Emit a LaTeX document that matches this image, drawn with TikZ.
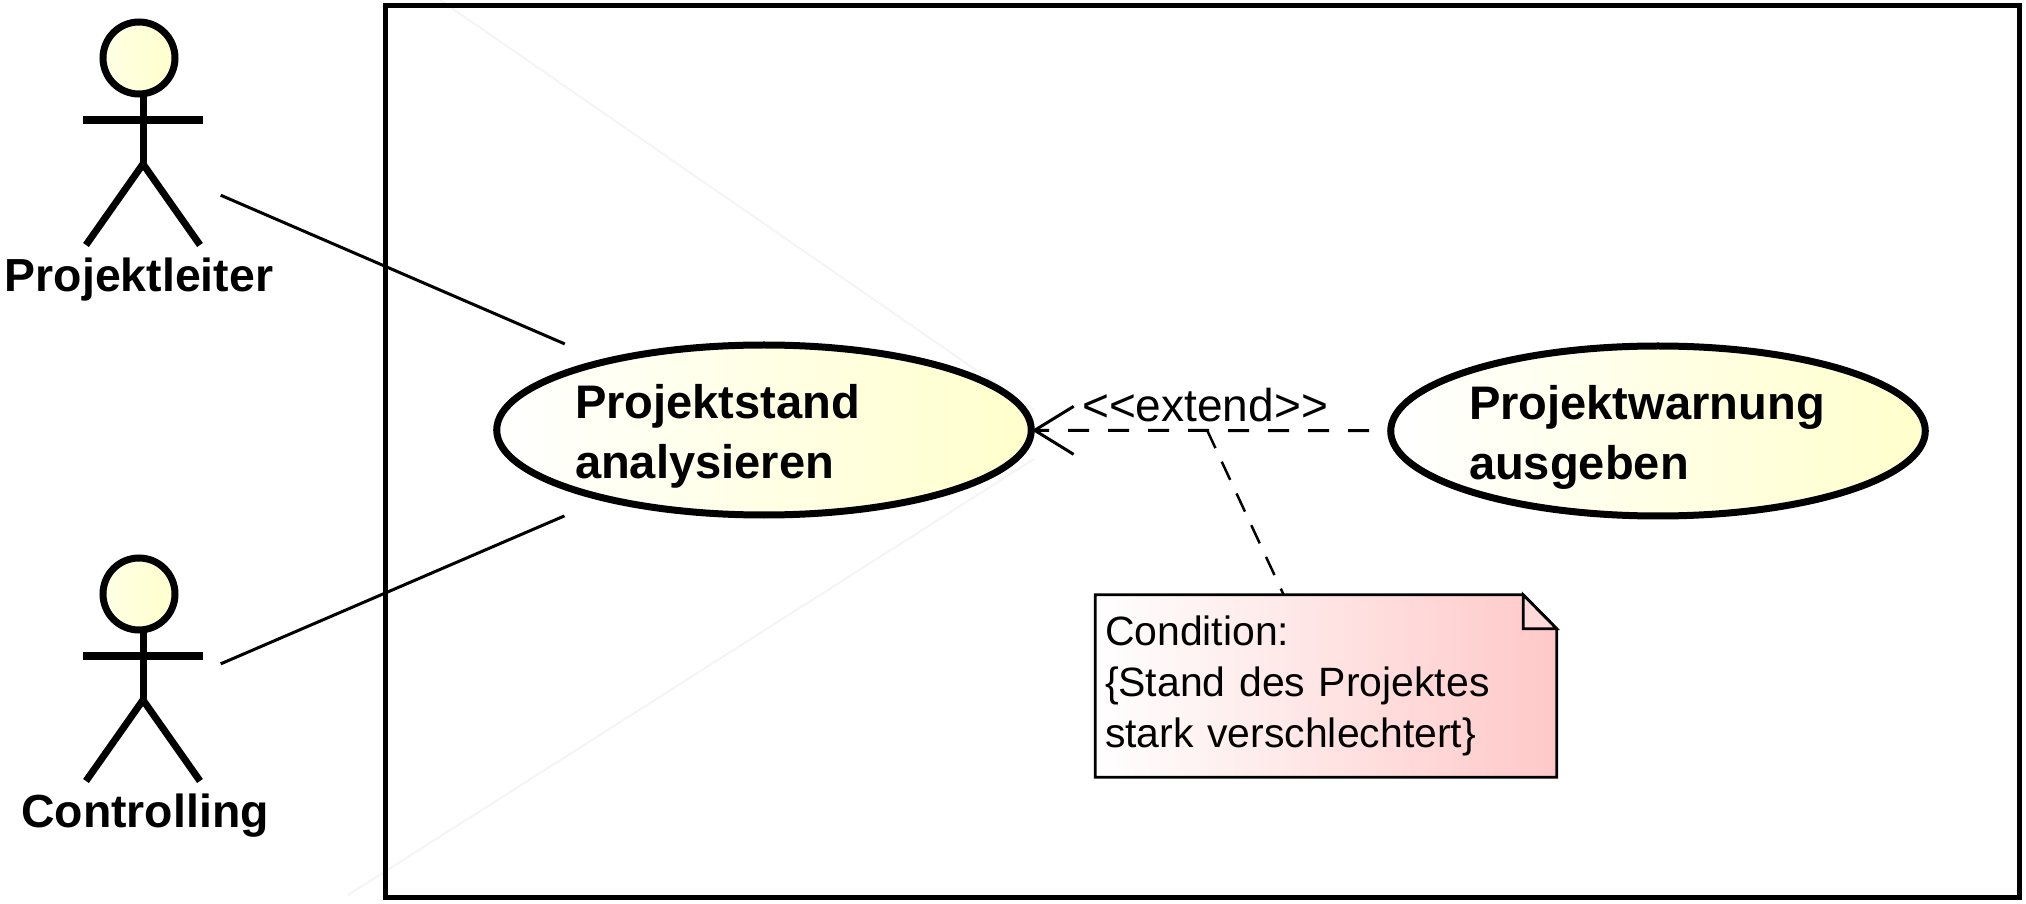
\documentclass[tikz,border=0pt]{standalone}
\usepackage{fontspec}
\setmainfont{Liberation Sans}
\usetikzlibrary{arrows.meta,backgrounds,shapes.geometric}
\definecolor{ucyellow}{HTML}{FFFFCC}
\definecolor{notered}{HTML}{FFC8C8}
\definecolor{faintline}{HTML}{F4F4F4}
\tikzset{
  usecase/.style={draw, ellipse, line width=0.07cm, inner sep=0pt, minimum width=5.33cm, minimum height=1.70cm,
    left color=white, right color=ucyellow, text width=3.78cm, text height=13.4pt, align=left, font=\fontsize{13.4}{17}\selectfont\bfseries},
  actorbox/.style={rectangle, inner sep=0pt, minimum width=1.62cm, minimum height=2.4cm},
  actorlabel/.style={anchor=base, inner sep=0pt, font=\fontsize{13.2}{16}\selectfont\bfseries},
  notebox/.style={rectangle, inner sep=0pt, minimum width=4.60cm, minimum height=1.81cm, text width=4.42cm, align=left,
    font=\fontsize{11.65}{14.5}\selectfont},
  assoc/.style={line width=0.03cm, shorten >=0.39cm},
  extendline/.style={line width=0.03cm, dash pattern=on 0.21cm off 0.19cm},
  noteline/.style={line width=0.025cm, dash pattern=on 0.2cm off 0.15cm},
  actor/.pic={
    \draw[line width=0.07cm, left color=ucyellow!50, right color=ucyellow] (0,1.02) circle (0.36);
    \draw[line width=0.07cm] (0.04,0.66) -- (0.04,-0.04);
    \draw[line width=0.08cm] (-0.56,0.40) -- (0.64,0.40);
    \draw[line width=0.07cm] (-0.53,-0.85) -- (0.04,-0.04) -- (0.61,-0.85);
  }
}
\begin{document}
\begin{tikzpicture}[>={Straight Barb[length=0.39cm,width=0.48cm]}]
\useasboundingbox (0,0) rectangle (20.26,9.03);
% frame and the two faint traces
\draw[faintline, line width=0.02cm] (4.40,9.03) -- (10.34,4.93);
\draw[faintline, line width=0.02cm] (3.48,0.08) -- (10.34,4.44);
\node[draw, rectangle, line width=0.05cm, inner sep=0pt, minimum width=16.34cm, minimum height=8.91cm] (frame) at (12.02,4.515) {};
% actors
\node[actorbox] (pl) at (1.39,7.43) {};
\pic at (pl) {actor};
\node[actorlabel] (pllabel) at (1.39,6.11) {Projektleiter};
\node[actorbox] (ctrl) at (1.39,2.04) {};
\pic at ([yshift=0.03cm]ctrl) {actor};
\node[actorlabel] (ctrllabel) at (1.45,0.76) {Controlling};
% use cases
\node[usecase] (ana) at (7.64,4.73) {Projektstand\\analysieren};
\node[usecase] (warn) at (16.58,4.72) {Projektwarnung\\ausgeben};
% note
\node[notebox] (note) at (13.26,2.17) {Condition:\\\{Stand des Projektes\\stark verschlechtert\}};
\begin{scope}[on background layer]
\shade[draw, line width=0.028cm, left color=white, right color=notered] (note.south west) -- (note.north west) -- ([xshift=-0.335cm]note.north east) -- ([yshift=-0.34cm]note.north east) -- (note.south east) -- cycle;
\draw[line width=0.028cm, fill=notered!70] ([xshift=-0.335cm]note.north east) -- ([xshift=-0.335cm,yshift=-0.34cm]note.north east) -- ([yshift=-0.34cm]note.north east) -- cycle;
\end{scope}
% connectors
\draw[assoc] (pl) -- (ana);
\draw[assoc] (ctrl) -- (ana);
\draw[->, extendline, shorten <=0.18cm, shorten >=-0.03cm] (warn) -- (ana);
\node[inner sep=0pt, anchor=base, font=\fontsize{13.1}{16}\selectfont] (extlabel) at (12.05,4.81) {<{}<extend>{}>};
\coordinate (lnk) at (12.07,4.73);
\draw[noteline] (lnk) -- (note);
\end{tikzpicture}
\end{document}
